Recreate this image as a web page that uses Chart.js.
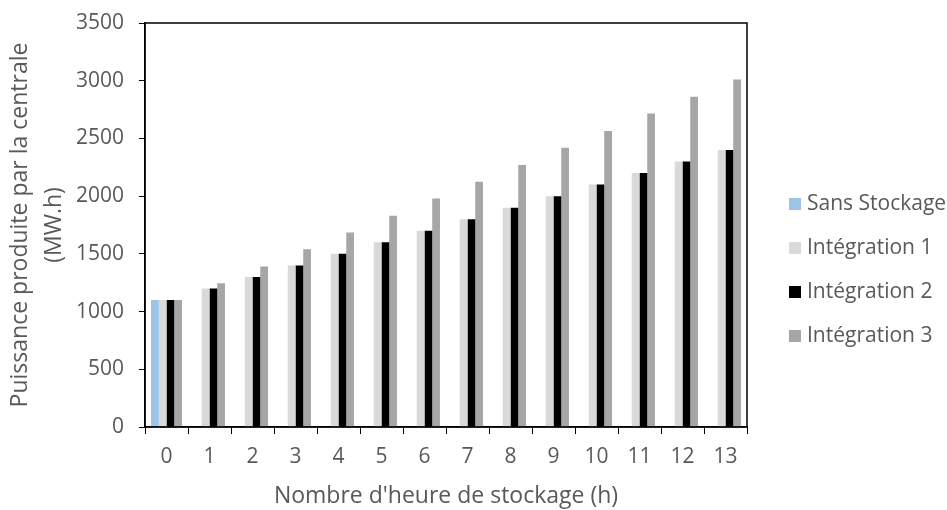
<!DOCTYPE html>
<html>
<head>
<meta charset="utf-8">
<script src="https://cdn.jsdelivr.net/npm/chart.js@4/dist/chart.umd.min.js"></script>
<style>
  body { margin: 0; background: #fff; }
  #wrap { width: 947px; height: 510px; }
</style>
</head>
<body>
<div id="wrap"><canvas id="my-chart" width="947" height="510"></canvas></div>
<script>
// ======== Data ========
const hours = ['0', '1', '2', '3', '4', '5', '6', '7', '8', '9', '10', '11', '12', '13']
const sansStockage = [1100, null, null, null, null, null, null, null, null, null, null, null, null, null]
const integration1 = [1100, 1200, 1300, 1400, 1500, 1600, 1700, 1800, 1900, 2000, 2100, 2200, 2300, 2400]
const integration2 = [1100, 1200, 1300, 1400, 1500, 1600, 1700, 1800, 1900, 2000, 2100, 2200, 2300, 2400]
const integration3 = [1100, 1245, 1390, 1540, 1685, 1830, 1980, 2125, 2270, 2420, 2565, 2715, 2860, 3010]
const yTicks = [0, 500, 1000, 1500, 2000, 2500, 3000, 3500]

const textColor = '#595959'
const fontFamily = "'Open Sans', 'DejaVu Sans', sans-serif"

// draws the top / right frame of the plot area
const frame = {
    id: 'frame',
    afterDraw(chart) {
        const { ctx, chartArea: a } = chart
        ctx.save()
        ctx.strokeStyle = '#000'
        ctx.lineWidth = 1.5
        ctx.strokeRect(a.left, a.top, a.right - a.left, a.bottom - a.top)
        ctx.restore()
    }
}

// legend on the right, drawn from the datasets
const sideLegend = {
    id: 'sideLegend',
    afterDraw(chart) {
        const { ctx } = chart
        ctx.save()
        ctx.font = `21px ${fontFamily}`
        ctx.textBaseline = 'middle'
        ctx.textAlign = 'left'
        chart.data.datasets.forEach((ds, i) => {
            const y = 204 + i * 44
            ctx.fillStyle = ds.backgroundColor
            ctx.fillRect(789, y - 6, 12, 12)
            ctx.fillStyle = textColor
            ctx.fillText(ds.label, 807, y)
        })
        ctx.restore()
    }
}

const ctx = document.getElementById('my-chart').getContext('2d')
new Chart(ctx, {
    type: 'bar',
    data: {
        labels: hours,
        datasets: [
            { label: 'Sans Stockage', data: sansStockage, backgroundColor: '#9DC3E6' },
            { label: 'Intégration 1', data: integration1, backgroundColor: '#D9D9D9' },
            { label: 'Intégration 2', data: integration2, backgroundColor: '#000000' },
            { label: 'Intégration 3', data: integration3, backgroundColor: '#A6A6A6' }
        ]
    },
    options: {
        responsive: false,
        animation: false,
        categoryPercentage: 0.72,
        barPercentage: 1.0,
        layout: { padding: { top: 23, right: 200, left: 0, bottom: 0 } },
        plugins: {
            legend: { display: false },
            tooltip: { enabled: false }
        },
        scales: {
            x: {
                grid: { offset: true, drawOnChartArea: false, drawTicks: true, tickLength: 7, color: '#000' },
                border: { color: '#000', width: 1.5 },
                ticks: { color: textColor, font: { family: fontFamily, size: 21 }, padding: 10 },
                title: {
                    display: true,
                    text: "Nombre d'heure de stockage (h)",
                    color: textColor,
                    font: { family: fontFamily, size: 23 },
                    padding: { top: 0, bottom: 0 }
                },
                afterFit(scale) { scale.height = 83 }
            },
            y: {
                min: 0,
                max: 3500,
                afterBuildTicks(scale) { scale.ticks = yTicks.map(v => ({ value: v })) },
                grid: { drawOnChartArea: false, drawTicks: true, tickLength: 6, color: '#000' },
                border: { color: '#000', width: 1.5 },
                ticks: {
                    color: textColor,
                    font: { family: fontFamily, size: 21 },
                    padding: 15,
                    callback: (v) => String(v)
                },
                title: {
                    display: true,
                    text: ['Puissance produite par la centrale', '(MW.h)'],
                    color: textColor,
                    font: { family: fontFamily, size: 23, lineHeight: 1.5 },
                    padding: { top: 3, bottom: 0 }
                },
                afterFit(scale) {
                    scale.width = 145
                    scale.paddingTop = 0
                    scale.paddingBottom = 0
                }
            }
        }
    },
    plugins: [frame, sideLegend]
})
</script>
</body>
</html>
